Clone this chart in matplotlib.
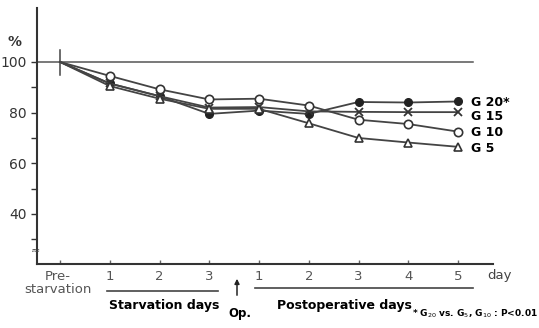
import matplotlib
matplotlib.use("Agg")
import matplotlib.pyplot as plt

W, H = 539, 328
x_labels = ["Pre-\nstarvation", "1", "2", "3", "1", "2", "3", "4", "5"]
x_pos = [0, 1, 2, 3, 4, 5, 6, 7, 8]

g20 = [100, 91.5, 86.5, 79.5, 80.8, 79.5, 84.2, 84.0, 84.4]
g15 = [100, 91.5, 86.5, 82.0, 82.2, 80.5, 80.3, 80.2, 80.2]
g10 = [100, 94.5, 89.2, 85.2, 85.5, 82.8, 77.2, 75.5, 72.5]
g5 = [100, 90.5, 85.5, 81.5, 81.5, 75.8, 70.0, 68.2, 66.5]
series_names = ["G 20*", "G 15", "G 10", "G 5"]

y_ticks_major = [40, 60, 80, 100]
y_ticks_minor = [30, 50, 70, 90]

fig = plt.figure(figsize=(W / 100, H / 100), dpi=100)
left_px, right_px, top_px, bot_px = 37, 493, 8, 264
ax = fig.add_axes([left_px / W, 1 - bot_px / H, (right_px - left_px) / W, (bot_px - top_px) / H])
x0_px, dx_px = 60, 49.75
ax.set_xlim((left_px - x0_px) / dx_px, (right_px - x0_px) / dx_px)
ax.set_ylim(20.25, 121.3)

lc = "#444444"
me = list(range(1, len(x_pos)))
ax.plot(x_pos, g20, color=lc, lw=1.3, marker="o", ms=5.5, mfc="#222222", mec="#222222", markevery=me, zorder=3)
ax.plot(x_pos, g15, color=lc, lw=1.3, marker="x", ms=5.5, mew=1.3, mec="#333333", markevery=me, zorder=3)
ax.plot(x_pos, g10, color=lc, lw=1.3, marker="o", ms=6, mfc="white", mec="#333333", mew=1.2, markevery=me, zorder=4)
ax.plot(x_pos, g5, color=lc, lw=1.3, marker="^", ms=6, mfc="white", mec="#333333", mew=1.2, markevery=me, zorder=4)

ax.plot([(left_px - x0_px) / dx_px, (473 - x0_px) / dx_px], [100, 100], color="#555555", lw=1.1, zorder=1)
ax.plot([0, 0], [95, 104.8], color="#444444", lw=1.1, zorder=2)

for s in ["top", "right"]:
    ax.spines[s].set_visible(False)
for s in ["left", "bottom"]:
    ax.spines[s].set_linewidth(1.5)
    ax.spines[s].set_color("#333333")

ax.set_yticks(y_ticks_major)
ax.set_yticks(y_ticks_minor, minor=True)
ax.tick_params(axis="y", which="both", direction="out", length=4, width=1, colors="#333333", labelsize=10)
ax.set_xticks(x_pos)
ax.set_xticklabels([])
ax.tick_params(axis="x", direction="in", length=3, width=1, colors="#666666")

ax.text(-0.5, 25.5, "≈", fontsize=8, ha="center", va="center", color="#444444")


def px(x, y):
    return x / W, 1 - y / H

for xi, lab in zip(x_pos, x_labels):
    xp = x0_px + xi * dx_px
    if xi == 0:
        fig.text(*px(xp - 2, 283), lab, ha="center", va="center", fontsize=9.5, color="#555555", linespacing=1.0)
    else:
        fig.text(*px(xp, 276), lab, ha="center", va="center", fontsize=9.5, color="#555555")
fig.text(*px(500, 275), "day", ha="center", va="center", fontsize=9.5, color="#444444")

fig.text(*px(15, 42), "%", ha="center", va="center", fontsize=10, color="#333333", fontweight="bold")

fig.add_artist(plt.Line2D([107 / W, 218 / W], [1 - 291 / H] * 2, color="#444444", lw=1.2))
fig.add_artist(plt.Line2D([255 / W, 473 / W], [1 - 288 / H] * 2, color="#444444", lw=1.2))

fig.text(*px(164, 306), "Starvation days", ha="center", va="center", fontsize=9, fontweight="bold", color="black")
fig.text(*px(344, 306), "Postoperative days", ha="center", va="center", fontsize=9, fontweight="bold", color="black")
fig.text(*px(240, 313), "Op.", ha="center", va="center", fontsize=8.5, fontweight="bold", color="black")
ax.annotate("", xy=px(237, 276), xytext=px(237, 298), xycoords="figure fraction", textcoords="figure fraction",
            arrowprops=dict(arrowstyle="-|>", color="#222222", lw=1.1, mutation_scale=7))

fig.text(*px(538, 314), r"* G$_{20}$ vs. G$_5$, G$_{10}$ : P<0.01", ha="right", va="center", fontsize=6.5, fontweight="bold", color="black")

for name, yv in zip(series_names, [102, 116, 133, 148]):
    fig.text(*px(471, yv), name, ha="left", va="center", fontsize=9, fontweight="bold", color="black")

fig.savefig("out.png", dpi=100)
